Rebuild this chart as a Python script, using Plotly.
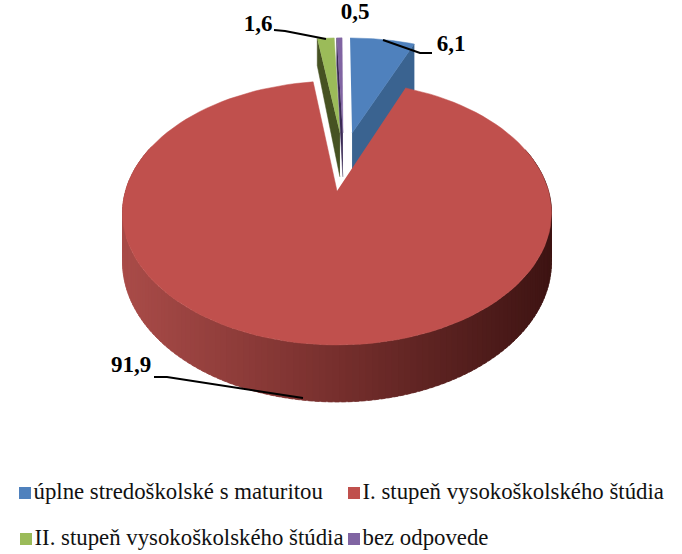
import numpy as np
import plotly.graph_objects as go

# Survey shares (percent)
categories = ["úplne stredoškolské s maturitou", "I. stupeň vysokoškolského štúdia",
              "II. stupeň vysokoškolského štúdia", "bez odpovede"]
values = [6.1, 91.9, 1.6, 0.5]
value_labels = ["6,1", "91,9", "1,6", "0,5"]

colors = ["#4F81BD", "#C0504D", "#9BBB59", "#8064A2"]
dark_colors = ["#3A6390", "#78302E", "#465222", "#3A2A55"]

# how far each slice is pulled out of the pie, in disc units (x, y)
explode_u = [0.077, 0.0, 0.015, 0.03]
explode_v = [-0.489, 0.0, -0.49, -0.49]

# drop of each cut face on the page (pixels), at the centre and at the rim
cut_drop_in = [40, 0, 44, 44]
cut_drop_out = [46, 0, 27, 27]

# projection of the unit disc onto the page (pixels)
W, H = 682, 554
CX, CY = 337, 191
A, B = 211.5, 128.3
K = 1 / 6
DEPTH = 47.5


def project(u, v, bottom=False):
    w = 1 - K * v
    h = DEPTH if bottom else 0
    return CX + A * u / w, CY + (B * v + h) / w


def rim(i, t0, t1, n=120):
    a = np.radians(np.linspace(t0, t1, n))
    return explode_u[i] + np.sin(a), explode_v[i] - np.cos(a)


def poly(fig, xs, ys, color):
    fig.add_trace(go.Scatter(x=list(xs), y=list(ys), mode="lines", fill="toself", fillcolor=color,
                             line=dict(color=color, width=0.5), hoverinfo="skip", showlegend=False))


def draw_top(fig, i, t0, t1):
    u, v = rim(i, t0, t1)
    x, y = project(np.append(u, explode_u[i]), np.append(v, explode_v[i]))
    poly(fig, x, y, colors[i])


def draw_cut(fig, i, t):
    # flat cut face of a slice, from the centre out to the rim at angle t
    u, v = rim(i, t, t, 2)
    x, y = project(np.array([explode_u[i], u[0]]), np.array([explode_v[i], v[0]]))
    xs = [x[0], x[1], x[1], x[0]]
    ys = [y[0], y[1], y[1] + cut_drop_out[i], y[0] + cut_drop_in[i]]
    poly(fig, xs, ys, dark_colors[i])


def wall_color(x):
    # wall gets darker towards the right of the pie
    stops = [(122, (170, 76, 73)), (330, (120, 48, 46)), (551, (62, 20, 19))]
    xp = [s[0] for s in stops]
    rgb = [int(np.interp(x, xp, [s[1][c] for s in stops])) for c in range(3)]
    return "rgb(%d,%d,%d)" % tuple(rgb)


angles = np.cumsum([0] + values) / sum(values) * 360

fig = go.Figure()

# back slices first, the red one goes over them
draw_cut(fig, 0, angles[1])
draw_top(fig, 0, angles[0], angles[1])
draw_cut(fig, 2, angles[2])
draw_top(fig, 2, angles[2], angles[3])
draw_cut(fig, 3, angles[3])
draw_top(fig, 3, angles[3], angles[4])

# side wall of the red slice as thin strips
edges = np.arange(70, 292, 1.5)
for t0, t1 in zip(edges[:-1], edges[1:]):
    u, v = rim(1, t0, t1 + 1.0, 2)
    x0, y0 = project(u, v)
    x1, y1 = project(u[::-1], v[::-1], bottom=True)
    poly(fig, np.r_[x0, x1], np.r_[y0, y1], wall_color(x0.mean()))

draw_top(fig, 1, angles[1], angles[2])

# leader lines
leader_x = [[383, 420, 432], [154, 167, 303], [274, 285, 326]]
leader_y = [[40, 53, 53], [377, 377, 398], [30, 31, 39]]
for lx, ly in zip(leader_x, leader_y):
    fig.add_trace(go.Scatter(x=lx, y=ly, mode="lines", line=dict(color="black", width=2),
                             hoverinfo="skip", showlegend=False))

# data labels
label_x = [451, 131, 258, 355]
label_y = [45, 366, 25, 13]
fig.add_trace(go.Scatter(x=label_x, y=label_y, mode="text", text=[f"<b>{s}</b>" for s in value_labels],
                         textfont=dict(family="Liberation Serif", size=23, color="black"),
                         cliponaxis=False, hoverinfo="skip", showlegend=False))

# legend, laid out by hand in two rows
legend_x = [25, 354, 26, 354]
legend_y = [493, 493, 539, 539]
for i in range(4):
    fig.add_trace(go.Scatter(x=[legend_x[i]], y=[legend_y[i]], mode="markers+text",
                             marker=dict(symbol="square", size=12, color=colors[i]),
                             text=[categories[i]], textposition="middle right",
                             textfont=dict(family="Liberation Serif", size=22.8, color="#111111"),
                             cliponaxis=False, hoverinfo="skip", showlegend=False))

fig.update_xaxes(range=[0, W], visible=False, fixedrange=True)
fig.update_yaxes(range=[H, 0], visible=False, fixedrange=True)
fig.update_layout(width=W, height=H, margin=dict(l=0, r=0, t=0, b=0),
                  paper_bgcolor="white", plot_bgcolor="white", showlegend=False)

# the page's default body margin would push everything 8px off
fig.write_html("out.html", config={"displayModeBar": False},
               post_script="document.body.style.margin='0';document.body.style.overflow='hidden';")
